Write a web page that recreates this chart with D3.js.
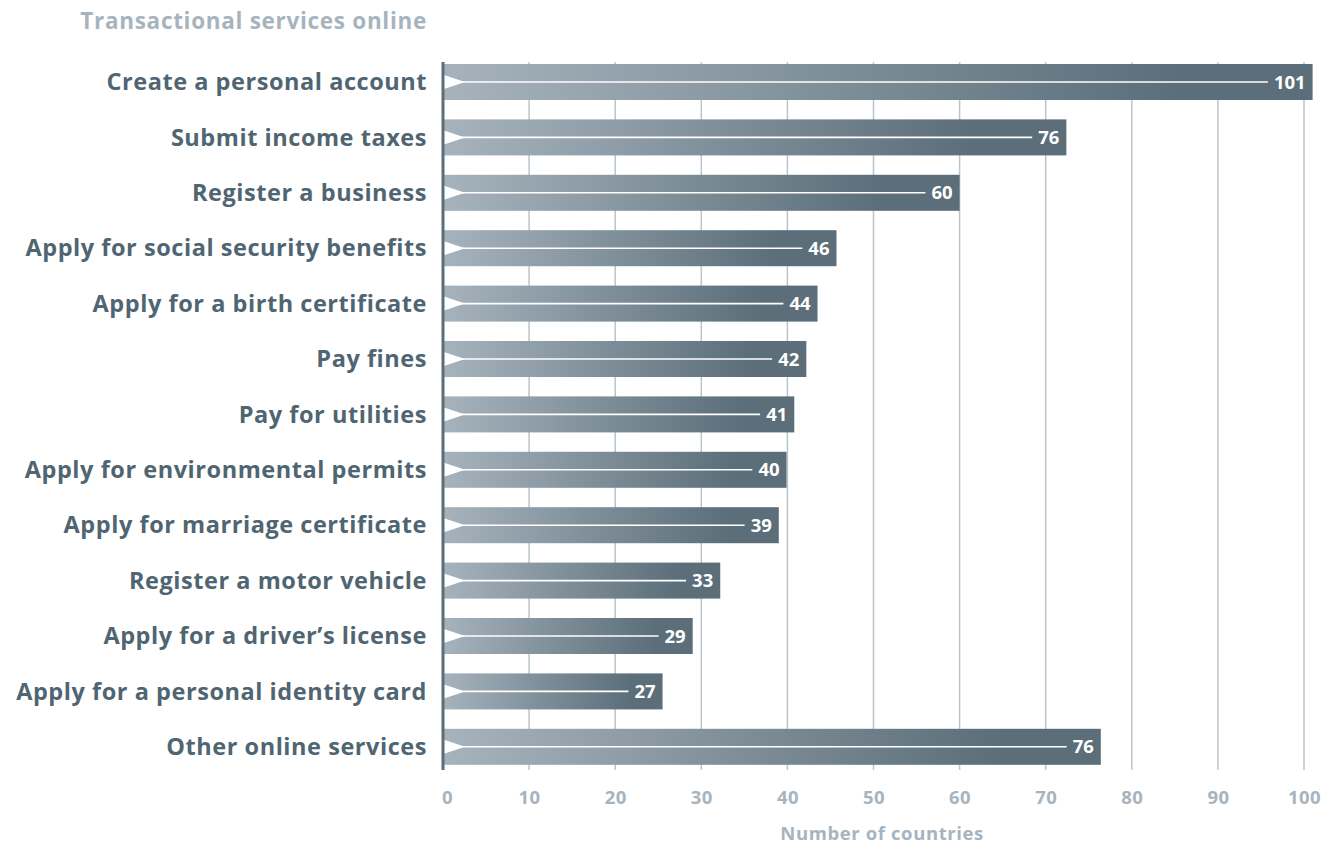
<!DOCTYPE html>
<html>
<head>
<meta charset="utf-8">
<script src="https://cdn.jsdelivr.net/npm/d3@7"></script>
<style>
  html, body { margin: 0; padding: 0; background: #ffffff; }
  svg { display: block; font-family: "Open Sans", Lato, sans-serif; }
</style>
</head>
<body>
<svg id="chart" width="1341" height="847"></svg>
<script>
// Categories (top to bottom)
const categories = [
  "Create a personal account",
  "Submit income taxes",
  "Register a business",
  "Apply for social security benefits",
  "Apply for a birth certificate",
  "Pay fines",
  "Pay for utilities",
  "Apply for environmental permits",
  "Apply for marriage certificate",
  "Register a motor vehicle",
  "Apply for a driver\u2019s license",
  "Apply for a personal identity card",
  "Other online services"
];
// Bar lengths as drawn in the picture (number of countries)
const barValues = [101, 72.4, 60, 45.7, 43.5, 42.2, 40.8, 39.9, 39, 32.2, 29, 25.5, 76.4];
// Value labels printed on the bars
const valueLabels = ["101", "76", "60", "46", "44", "42", "41", "40", "39", "33", "29", "27", "76"];
// Axis ticks
const tickValues = [0, 10, 20, 30, 40, 50, 60, 70, 80, 90, 100];
const chartTitle = "Transactional services online";
const axisTitle = "Number of countries";

const svg = d3.select("#chart");
const dark = "#5b6e79";
const labelColor = "#4f6572";
const lightText = "#a7b4be";
const font = "'Open Sans', Lato, sans-serif";

const x = d3.scaleLinear().domain([0, 100]).range([443, 1304]);
const y = d3.scaleBand().domain(categories).range([54.3, 774.5]).paddingInner(0.35).paddingOuter(0.175);

const defs = svg.append("defs");
const grad = defs.append("linearGradient").attr("id", "barGrad")
  .attr("x1", "0%").attr("x2", "100%").attr("y1", "0%").attr("y2", "0%");
grad.append("stop").attr("offset", "0%").attr("stop-color", "#a6b3bd");
grad.append("stop").attr("offset", "85%").attr("stop-color", "#5b6e79");
grad.append("stop").attr("offset", "100%").attr("stop-color", "#5b6e79");

// Gridlines
svg.append("g").selectAll("line").data(tickValues.slice(1)).join("line")
  .attr("x1", d => x(d)).attr("x2", d => x(d))
  .attr("y1", 62).attr("y2", 770)
  .attr("stroke", "#b9c5cd").attr("stroke-width", 1.5);

// Bars
const rows = svg.append("g").selectAll("g").data(categories).join("g");
rows.append("rect")
  .attr("x", x(0))
  .attr("y", d => y(d))
  .attr("width", (d, i) => x(barValues[i]) - x(0))
  .attr("height", y.bandwidth())
  .attr("fill", "url(#barGrad)");

// Value labels
const vl = rows.append("text")
  .attr("x", (d, i) => x(barValues[i]) - 7)
  .attr("y", d => y(d) + y.bandwidth() / 2)
  .attr("dy", "0.36em")
  .attr("text-anchor", "end")
  .attr("fill", "#ffffff")
  .attr("font-family", font)
  .attr("font-weight", 700)
  .attr("font-size", 18.5)
  .text((d, i) => valueLabels[i]);

// White lines
rows.append("line")
  .attr("x1", x(0) + 2)
  .attr("x2", function(d, i) {
    const t = vl.nodes()[i];
    return x(barValues[i]) - 7 - t.getComputedTextLength() - 6;
  })
  .attr("y1", d => y(d) + y.bandwidth() / 2)
  .attr("y2", d => y(d) + y.bandwidth() / 2)
  .attr("stroke", "#ffffff").attr("stroke-width", 1.6);

// Triangles
rows.append("path")
  .attr("d", d => {
    const cy = y(d) + y.bandwidth() / 2;
    const x0 = x(0) + 1;
    return `M${x0},${cy - 7}L${x0 + 21},${cy}L${x0},${cy + 7}Z`;
  })
  .attr("fill", "#ffffff");

// Y axis line
svg.append("line")
  .attr("x1", x(0)).attr("x2", x(0))
  .attr("y1", 62).attr("y2", 770)
  .attr("stroke", dark).attr("stroke-width", 3);

// Category labels
svg.append("g").selectAll("text").data(categories).join("text")
  .attr("x", 427)
  .attr("y", d => y(d) + y.bandwidth() / 2)
  .attr("dy", "0.35em")
  .attr("text-anchor", "end")
  .attr("fill", labelColor)
  .attr("font-family", font)
  .attr("font-weight", 700)
  .attr("font-size", 23.5)
  .attr("letter-spacing", 0.55)
  .text(d => d);

// X tick labels
const xAxis = d3.axisBottom(x).tickValues(tickValues).tickSize(0).tickPadding(0);
const gx = svg.append("g").attr("transform", "translate(0,798)").call(xAxis);
gx.select(".domain").remove();
gx.selectAll("text")
  .attr("fill", lightText)
  .attr("font-family", font)
  .attr("font-weight", 700)
  .attr("font-size", 18.5)
  .attr("letter-spacing", 0.4)
  .attr("dy", "0.35em");
gx.select(".tick text").attr("dx", 4);

// Axis title
svg.append("text")
  .attr("x", x(51)).attr("y", 834)
  .attr("dy", "0.35em")
  .attr("text-anchor", "middle")
  .attr("fill", lightText)
  .attr("font-family", font)
  .attr("font-weight", 700)
  .attr("font-size", 18.5)
  .attr("letter-spacing", 0.6)
  .text(axisTitle);

// Chart title
svg.append("text")
  .attr("x", 427).attr("y", 21)
  .attr("dy", "0.35em")
  .attr("text-anchor", "end")
  .attr("fill", lightText)
  .attr("font-family", font)
  .attr("font-weight", 700)
  .attr("font-size", 22.5)
  .attr("letter-spacing", 0.7)
  .text(chartTitle);
</script>
</body>
</html>
